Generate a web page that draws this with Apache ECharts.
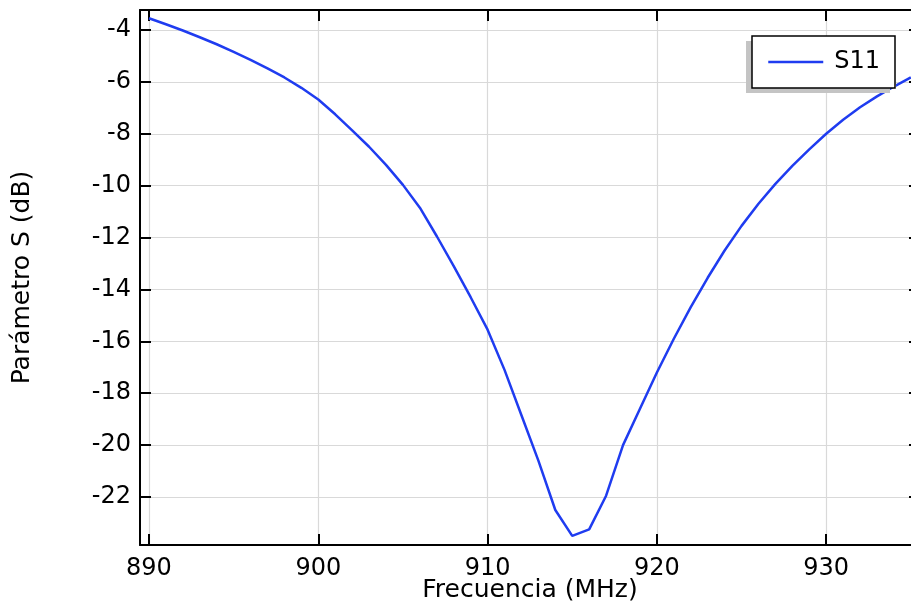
<!DOCTYPE html>
<html>
<head>
<meta charset="utf-8">
<script src="https://cdn.jsdelivr.net/npm/echarts@6/dist/echarts.min.js"></script>
<style>html,body{margin:0;padding:0;background:#fff}#c{width:911px;height:607px}</style>
</head>
<body>
<div id="c"></div>
<script>
const seriesName = 'S11';
const freqMHz = [890,891,892,893,894,895,896,897,898,899,900,901,902,903,904,905,906,907,908,909,910,911,912,913,914,915,916,917,918,919,920,921,922,923,924,925,926,927,928,929,930,931,932,933,934,935];
const s11dB = [-3.55,-3.78,-4.02,-4.28,-4.55,-4.84,-5.15,-5.48,-5.83,-6.23,-6.68,-7.25,-7.87,-8.5,-9.2,-9.97,-10.85,-11.95,-13.1,-14.3,-15.55,-17.1,-18.85,-20.6,-22.5,-23.5,-23.25,-21.95,-20.0,-18.6,-17.2,-15.9,-14.68,-13.55,-12.5,-11.55,-10.7,-9.93,-9.24,-8.6,-8.0,-7.46,-6.98,-6.56,-6.18,-5.83];
const xTicks = [890,900,910,920,930];
const yTicks = [-22,-20,-18,-16,-14,-12,-10,-8,-6,-4];
const xRange = [889.47, 935.54];
const yRange = [-23.85, -3.23];
const xTitle = 'Frecuencia (MHz)';
const yTitle = 'Parámetro S (dB)';

const FONT = 'DejaVu Sans';
const BLUE = '#1f3cf0';
const chart = echarts.init(document.getElementById('c'), null, {renderer: 'canvas'});
const axisLine = {show: true, lineStyle: {color: '#000', width: 2}};
const gridLine = {show: true, lineStyle: {color: '#d9d9d9', width: 1.2}};
const tick = (vals) => ({show: true, inside: true, length: 11, lineStyle: {color: '#000', width: 2}, customValues: vals});
const LEG = {left: 752, top: 36, w: 143, h: 52};
chart.setOption({
  animation: false,
  backgroundColor: '#fff',
  grid: {left: 140, right: -9, top: 10, bottom: 62, containLabel: false, outerBoundsMode: 'none'},
  legend: {
    left: LEG.left, top: LEG.top,
    orient: 'horizontal',
    backgroundColor: '#fff',
    borderWidth: 0, borderRadius: 0,
    shadowColor: '#c4c4c4', shadowBlur: 0, shadowOffsetX: -6, shadowOffsetY: 5,
    padding: [14, 16, 14, 15],
    itemWidth: 55, itemHeight: 24, itemGap: 10,
    itemStyle: {opacity: 0},
    lineStyle: {width: 2.5, color: BLUE},
    textStyle: {fontFamily: FONT, fontSize: 24, color: '#000', lineHeight: 24, padding: [0, 0, 0, 6]},
    data: [seriesName]
  },
  graphic: [{
    type: 'rect', z: 100, silent: true,
    shape: {x: LEG.left, y: LEG.top, width: LEG.w, height: LEG.h},
    style: {fill: 'none', stroke: '#000', lineWidth: 1.5}
  }],
  xAxis: [{
    type: 'value', min: xRange[0], max: xRange[1], position: 'bottom',
    axisLine: axisLine,
    axisTick: tick(xTicks),
    axisLabel: {customValues: xTicks, fontFamily: FONT, fontSize: 24, color: '#000', margin: 12},
    splitLine: gridLine,
    name: xTitle, nameLocation: 'middle', nameGap: 33, nameMoveOverlap: false,
    nameTextStyle: {fontFamily: FONT, fontSize: 25, color: '#000', verticalAlign: 'top', lineHeight: 25}
  }, {
    type: 'value', min: xRange[0], max: xRange[1], position: 'top',
    axisLine: axisLine,
    axisTick: tick(xTicks),
    axisLabel: {show: false, customValues: xTicks},
    splitLine: {show: false}
  }],
  yAxis: [{
    type: 'value', min: yRange[0], max: yRange[1], position: 'left',
    axisLine: axisLine,
    axisTick: tick(yTicks),
    axisLabel: {customValues: yTicks, fontFamily: FONT, fontSize: 24, color: '#000', margin: 9},
    splitLine: gridLine,
    name: yTitle, nameLocation: 'middle', nameGap: 105, nameRotate: 90, nameMoveOverlap: false,
    nameTextStyle: {fontFamily: FONT, fontSize: 25, color: '#000'}
  }, {
    type: 'value', min: yRange[0], max: yRange[1], position: 'right',
    axisLine: axisLine,
    axisTick: tick(yTicks),
    axisLabel: {show: false, customValues: yTicks},
    splitLine: {show: false}
  }],
  series: [{
    name: seriesName, type: 'line',
    xAxisIndex: 0, yAxisIndex: 0,
    data: freqMHz.map((f, i) => [f, s11dB[i]]),
    symbol: 'none', smooth: false,
    lineStyle: {color: BLUE, width: 2.5},
    itemStyle: {color: BLUE}
  }]
});
</script>
</body>
</html>
